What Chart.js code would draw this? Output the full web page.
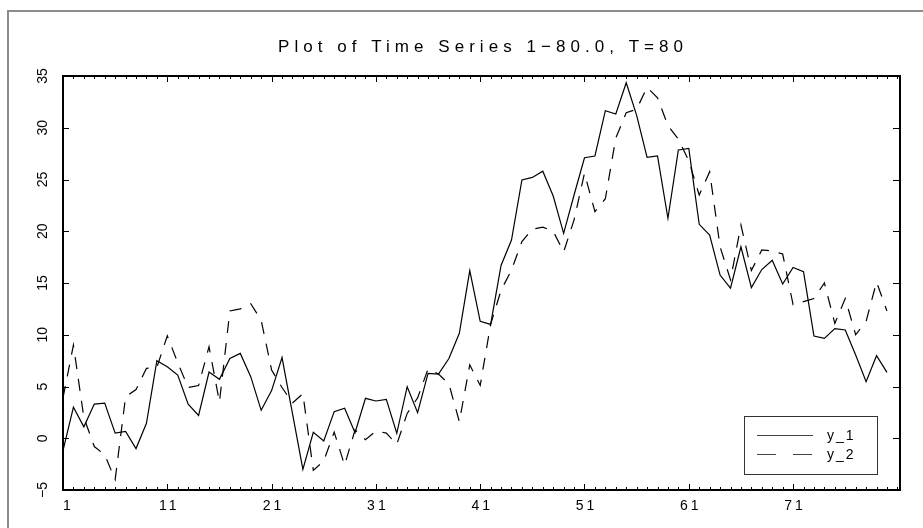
<!DOCTYPE html>
<html>
<head>
<meta charset="utf-8">
<script src="https://cdn.jsdelivr.net/npm/chart.js@4"></script>
<style>
  body { margin: 0; background: #fff; }
  canvas { display: block; }
</style>
</head>
<body>
<canvas id="tsChart" width="923" height="528"></canvas>
<script>
// Series values, one value per period (T = 80)
const periods = Array.from({ length: 80 }, (_, i) => i + 1);
const y1 = [-1.2, 3.0, 1.1, 3.3, 3.4, 0.5, 0.65, -1.0, 1.45, 7.5,
    6.9, 6.1, 3.3, 2.2, 6.4, 5.7, 7.7, 8.2, 5.95, 2.7,
    4.6, 7.8, 2.4, -3.0, 0.57, -0.27, 2.57, 2.9, 0.54, 3.86,
    3.6, 3.76, 0.48, 4.98, 2.47, 6.27, 6.2, 7.7, 10.14, 16.2,
    11.3, 11.0, 16.7, 19.15, 24.95, 25.2, 25.8, 23.4, 19.8, 23.5,
    27.1, 27.27, 31.65, 31.33, 34.35, 31.2, 27.14, 27.27, 21.25, 27.85,
    28.0, 20.67, 19.64, 15.77, 14.5, 18.5, 14.55, 16.3, 17.2, 14.9,
    16.5, 16.1, 9.88, 9.65, 10.6, 10.46, 8.04, 5.47, 7.98, 6.37];
const y2 = [3.9, 9.0, 2.0, -0.8, -1.6, -4.0, 4.0, 4.7, 6.75, 6.85,
    9.9, 7.3, 4.9, 5.1, 8.85, 3.5, 12.3, 12.5, 13.0, 11.4,
    6.6, 4.9, 3.4, 4.3, -3.1, -2.2, 0.6, -2.6, 0.8, -0.15,
    0.7, 0.5, -0.6, 2.4, 3.9, 6.7, 6.2, 5.25, 1.6, 7.1,
    5.1, 11.0, 14.3, 16.25, 19.0, 20.2, 20.4, 20.0, 18.0, 21.1,
    25.6, 21.9, 23.15, 29.0, 31.45, 31.8, 33.9, 32.9, 30.2, 28.9,
    26.8, 23.5, 25.75, 18.5, 15.3, 20.6, 16.2, 18.2, 18.1, 17.8,
    12.9, 13.2, 13.5, 15.0, 11.1, 13.5, 10.0, 11.3, 15.1, 12.3];
const seriesNames = ['y_1', 'y_2'];
const xTicks = [1, 11, 21, 31, 41, 51, 61, 71];
const yTicks = [-5, 0, 5, 10, 15, 20, 25, 30, 35];
const titleText = 'Plot of Time Series 1\u221280.0, T=80';

const FONT = '"Liberation Sans", Arial, sans-serif';

// Draws the old-style frame, ticks, labels, title and legend box
const framePlugin = {
    id: 'frame',
    afterDraw(chart) {
        const { ctx, chartArea: a, scales: { x, y } } = chart;
        ctx.save();

        // outer page border
        ctx.strokeStyle = '#8c8c8c';
        ctx.lineWidth = 2;
        ctx.strokeRect(8, 11, 940, 540);

        // plot box
        ctx.strokeStyle = '#000';
        ctx.lineWidth = 2;
        ctx.strokeRect(a.left, a.top, a.right - a.left, a.bottom - a.top);

        // x ticks, minor every period, major at labelled ones
        ctx.lineWidth = 1;
        ctx.beginPath();
        for (let v = 1; v <= 81; v++) {
            const px = Math.round(x.getPixelForValue(v)) + 0.5;
            const len = xTicks.includes(v) ? 6 : 3;
            ctx.moveTo(px, a.bottom);
            ctx.lineTo(px, a.bottom - len);
            ctx.moveTo(px, a.top);
            ctx.lineTo(px, a.top + len);
        }
        // y ticks on both sides
        yTicks.forEach(v => {
            const py = Math.round(y.getPixelForValue(v)) + 0.5;
            ctx.moveTo(a.left, py);
            ctx.lineTo(a.left + 6, py);
            ctx.moveTo(a.right, py);
            ctx.lineTo(a.right - 7, py);
        });
        ctx.stroke();

        ctx.fillStyle = '#000';

        // x labels (two character wide field, as in the original output)
        ctx.font = '14px ' + FONT;
        ctx.letterSpacing = '3px';
        ctx.textAlign = 'center';
        ctx.textBaseline = 'alphabetic';
        xTicks.forEach(v => {
            const px = x.getPixelForValue(v);
            ctx.fillText(String(v).padStart(2, ' '), px + 2, 510);
        });

        // y labels, rotated
        ctx.letterSpacing = '0px';
        yTicks.forEach(v => {
            const py = y.getPixelForValue(v);
            ctx.save();
            ctx.translate(47, py);
            ctx.rotate(-Math.PI / 2);
            ctx.fillText(String(v).replace('-', '\u2212'), 0, 0);
            ctx.restore();
        });

        // title, spread to the width of the original
        ctx.font = '17px ' + FONT;
        const plain = ctx.measureText(titleText).width;
        const spread = (405 - plain) / (titleText.length - 1);
        ctx.letterSpacing = spread + 'px';
        ctx.textAlign = 'left';
        ctx.fillText(titleText, 278, 52);

        // legend box
        ctx.letterSpacing = '0px';
        ctx.strokeStyle = '#333';
        ctx.lineWidth = 1;
        ctx.strokeRect(744.5, 416.5, 133, 58);
        ctx.strokeStyle = '#444';
        ctx.beginPath();
        ctx.moveTo(757, 435.5);
        ctx.lineTo(813, 435.5);
        ctx.stroke();
        ctx.setLineDash([19, 17]);
        ctx.beginPath();
        ctx.moveTo(757, 454.5);
        ctx.lineTo(813, 454.5);
        ctx.stroke();
        ctx.setLineDash([]);
        ctx.font = '14px ' + FONT;
        ctx.letterSpacing = '2px';
        ctx.textAlign = 'left';
        ctx.textBaseline = 'middle';
        ctx.fillText(seriesNames[0], 827, 436);
        ctx.fillText(seriesNames[1], 827, 455);

        ctx.restore();
    }
};

new Chart(document.getElementById('tsChart'), {
    type: 'line',
    data: {
        datasets: [
            {
                label: seriesNames[0],
                data: periods.map((p, i) => ({ x: p, y: y1[i] })),
                borderColor: '#000',
                borderWidth: 1.2,
                pointRadius: 0,
                tension: 0,
                fill: false
            },
            {
                label: seriesNames[1],
                data: periods.map((p, i) => ({ x: p, y: y2[i] })),
                borderColor: '#000',
                borderWidth: 1.2,
                borderDash: [12, 10],
                pointRadius: 0,
                tension: 0,
                fill: false
            }
        ]
    },
    options: {
        responsive: false,
        animation: false,
        devicePixelRatio: 1,
        layout: { padding: { left: 63, top: 76, right: 23, bottom: 38 } },
        plugins: {
            legend: { display: false },
            title: { display: false },
            tooltip: { enabled: false }
        },
        scales: {
            x: { type: 'linear', min: 1, max: 81.25, display: false },
            y: { type: 'linear', min: -5, max: 35, display: false }
        }
    },
    plugins: [framePlugin]
});
</script>
</body>
</html>
